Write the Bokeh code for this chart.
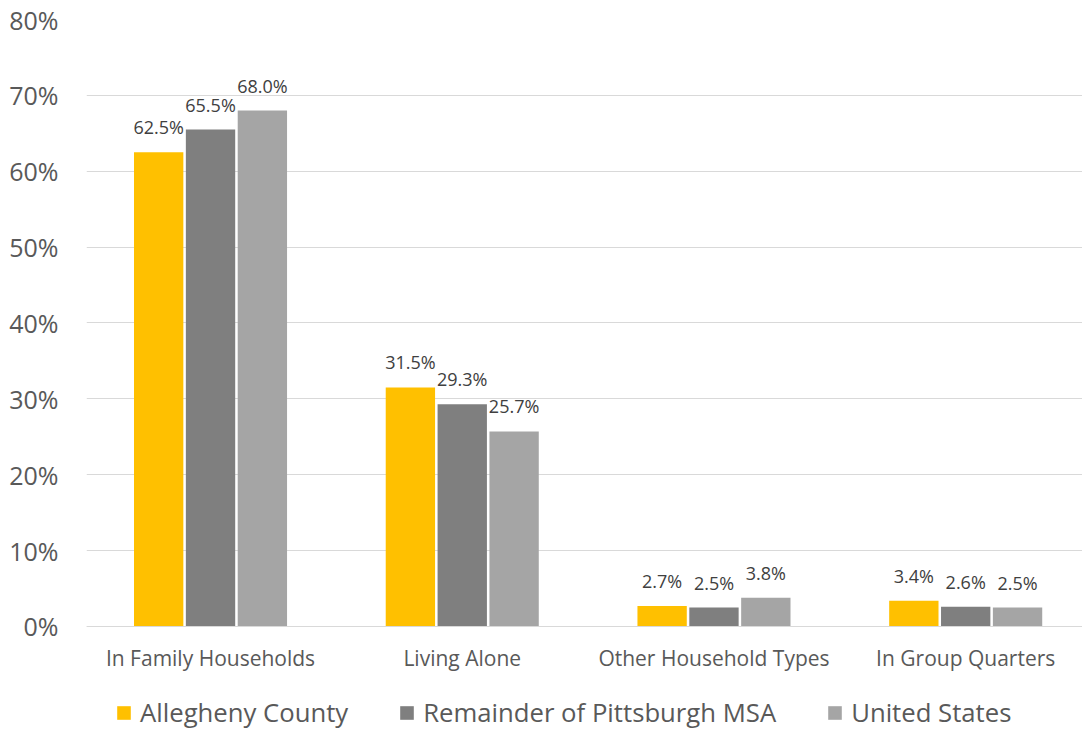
from bokeh.plotting import figure
from bokeh.models import Range1d, FixedTicker, PrintfTickFormatter, Legend, LegendItem, ColumnDataSource
from bokeh.core.properties import value
from bokeh.embed import file_html
from bokeh.resources import INLINE

categories = ["In Family Households", "Living Alone", "Other Household Types", "In Group Quarters"]
series_names = ["Allegheny County", "Remainder of Pittsburgh MSA", "United States"]
allegheny = [62.5, 31.5, 2.7, 3.4]
remainder = [65.5, 29.3, 2.5, 2.6]
united_states = [68.0, 25.7, 3.8, 2.5]
y_ticks = [0, 10, 20, 30, 40, 50, 60, 70, 80]

colors = ["#FFC000", "#7F7F7F", "#A5A5A5"]
offsets = [-0.206, 0.0, 0.206]
FONT = "Open Sans"
TEXT = "#595959"

p = figure(width=1082, height=731, output_backend="svg", toolbar_location=None,
           x_range=Range1d(0.0073, 3.964), y_range=Range1d(-13.84, 80),
           min_border_left=86, min_border_right=0, min_border_top=19, min_border_bottom=0)
p.outline_line_color = None
p.background_fill_color = "white"
p.xgrid.grid_line_color = None
p.ygrid.grid_line_color = "#D9D9D9"
p.ygrid.grid_line_width = 1

centers = [j + 0.5 for j in range(len(categories))]

# axes
p.yaxis.ticker = FixedTicker(ticks=y_ticks)
p.yaxis.formatter = PrintfTickFormatter(format="%d%%")
p.yaxis.axis_line_color = None
p.yaxis.major_tick_line_color = None
p.yaxis.minor_tick_line_color = None
p.yaxis.major_label_text_font = FONT
p.yaxis.major_label_text_font_size = "25px"
p.yaxis.major_label_text_color = TEXT
p.yaxis.major_label_standoff = 22

p.xaxis.fixed_location = 0
p.xaxis.ticker = FixedTicker(ticks=centers)
p.xaxis.major_label_overrides = {c: lab for c, lab in zip(centers, categories)}
p.xaxis.axis_line_color = "#D9D9D9"
p.xaxis.axis_line_width = 1
p.xaxis.major_tick_line_color = None
p.xaxis.minor_tick_line_color = None
p.xaxis.major_label_text_font = FONT
p.xaxis.major_label_text_font_size = "21px"
p.xaxis.major_label_text_color = TEXT
p.xaxis.major_label_standoff = 12

items = []
for vals, name, color, off in zip([allegheny, remainder, united_states], series_names, colors, offsets):
    src = ColumnDataSource(dict(x=[c + off for c in centers], top=vals,
                                lab=["%.1f%%" % v for v in vals]))
    r = p.vbar(x="x", top="top", width=0.196, source=src, fill_color=color, line_color=None)
    p.text(x="x", y="top", text="lab", source=src, text_align="center", text_baseline="bottom",
           y_offset=-13, text_font=value(FONT), text_font_size="18px", text_color="#404040")
    items.append(LegendItem(label=name, renderers=[r]))

legend = Legend(items=items, orientation="horizontal", location=(29, 1),
                glyph_width=17, glyph_height=17, label_standoff=8, spacing=50,
                padding=0, margin=0, border_line_color=None, background_fill_alpha=0,
                label_text_font=FONT, label_text_font_size="25.7px", label_text_color=TEXT)
p.add_layout(legend)

open("out.html", "w").write(file_html(p, INLINE))
